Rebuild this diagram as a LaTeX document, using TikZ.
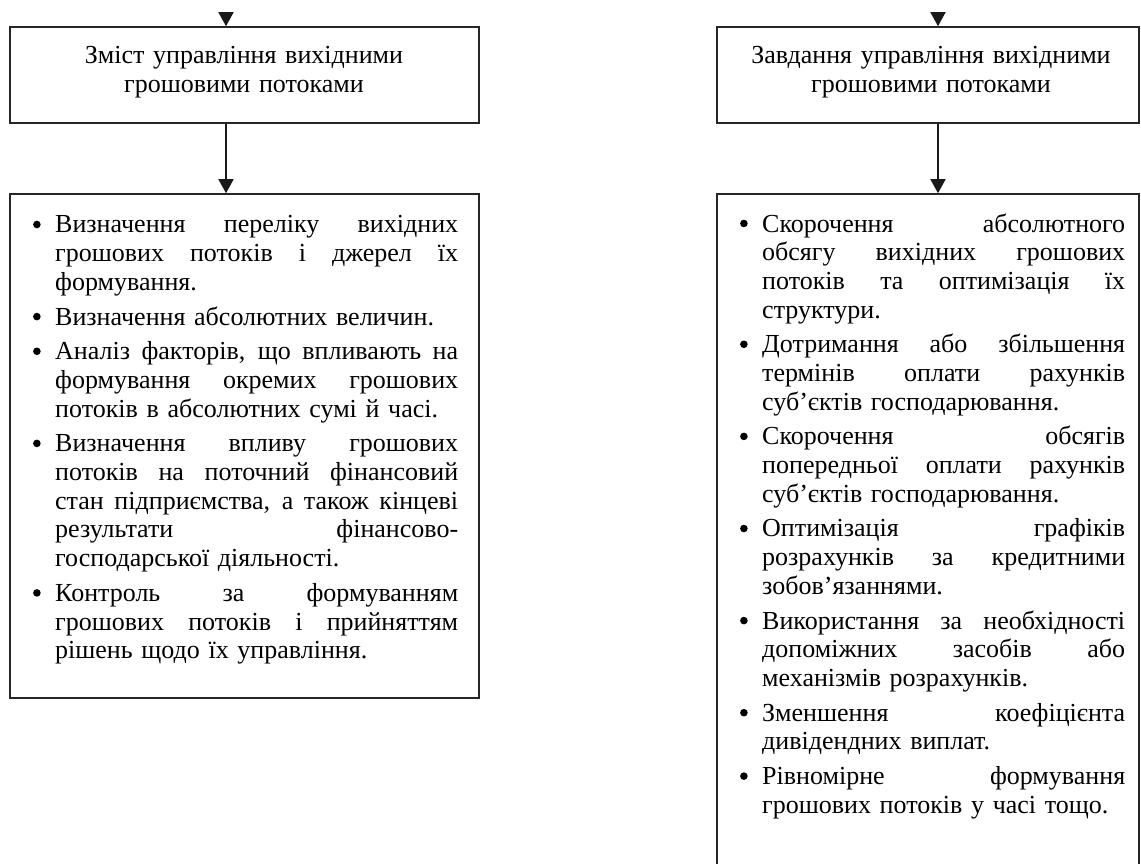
\documentclass[tikz,border=0pt]{standalone}
\usepackage{fontspec}
\setmainfont{Liberation Serif}
\usetikzlibrary{arrows.meta,calc}
\hbadness=10000 \hfuzz=20pt
\newcommand\J[1]{\hbox to \hsize{\spaceskip=0.25em plus 20em minus 0.05em\relax #1}}
\newcommand\N[1]{\hbox{#1}}
\newcommand\B{\llap{\tikz[baseline=0pt]\fill[black] (0pt,8.5pt) circle (3.8pt);\hskip 14.5pt}}
\newcommand\G{\vskip 6pt}
\tikzset{
  box/.style={draw=black!85, line width=1.6pt, inner sep=0pt, rectangle},
  title/.style={text width=460pt, align=center, inner sep=0pt, anchor=base,
    font=\fontsize{26}{29}\selectfont},
  list/.style={inner sep=0pt, anchor=base west,
    font=\fontsize{26}{28.7}\selectfont},
  arr/.style={line width=1.6pt, black!90, -{Triangle[length=14pt,width=15pt]}}
}
\begin{document}
\begin{tikzpicture}[x=1pt,y=-1pt]
\useasboundingbox (0,0) rectangle (1141,864);
% boxes
\node[box, minimum width=469pt, minimum height=96pt] (lt) at (244.5,75) {};
\node[box, minimum width=469pt, minimum height=504pt] (lb) at (244.5,446) {};
\node[box, minimum width=422pt, minimum height=96pt] (rt) at (928,75) {};
\node[box, minimum width=422pt, minimum height=690pt] (rb) at (928,539) {};
% titles
\node[title] (ltt) at (244,64) {Зміст управління вихідними\\грошовими потоками};
\node[title] (rtt) at (931,64) {Завдання управління вихідними\\грошовими потоками};
% arrows
\coordinate (la) at (226,12);
\coordinate (ra) at (938,12);
\draw[arr] (la) -- (la |- lt.north);
\draw[arr] (ra) -- (ra |- rt.north);
\draw[arr] (lt.south -| la) -- (lb.north -| la);
\draw[arr] (rt.south -| ra) -- (rb.north -| ra);
% left list
\node[list, text width=403pt] (ll) at (55,233) {%
\J{\B Визначення переліку вихідних}
\J{грошових потоків і джерел їх}
\N{формування.}
\G
\N{\B Визначення абсолютних величин.}
\G
\J{\B Аналіз факторів, що впливають на}
\J{формування окремих грошових}
\N{потоків в абсолютних сумі й часі.}
\G
\J{\B Визначення впливу грошових}
\J{потоків на поточний фінансовий}
\J{стан підприємства, а також кінцеві}
\J{результати фінансово-}
\N{господарської діяльності.}
\G
\J{\B Контроль за формуванням}
\J{грошових потоків і прийняттям}
\N{рішень щодо їх управління.}%
};
% right list
\node[list, text width=363pt] (rl) at (762,232) {%
\J{\B Скорочення абсолютного}
\J{обсягу вихідних грошових}
\J{потоків та оптимізація їх}
\N{структури.}
\G
\J{\B Дотримання або збільшення}
\J{термінів оплати рахунків}
\N{суб’єктів господарювання.}
\G
\J{\B Скорочення обсягів}
\J{попередньої оплати рахунків}
\N{суб’єктів господарювання.}
\G
\J{\B Оптимізація графіків}
\J{розрахунків за кредитними}
\N{зобов’язаннями.}
\G
\J{\B Використання за необхідності}
\J{допоміжних засобів або}
\N{механізмів розрахунків.}
\G
\J{\B Зменшення коефіцієнта}
\N{дивідендних виплат.}
\G
\J{\B Рівномірне формування}
\N{грошових потоків у часі тощо.}%
};
\end{tikzpicture}
\end{document}
